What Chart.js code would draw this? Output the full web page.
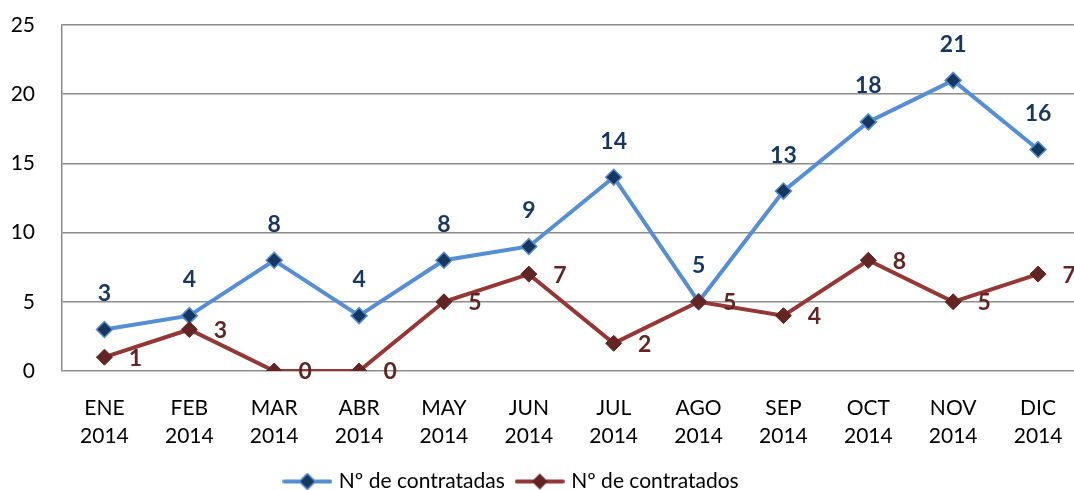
<!DOCTYPE html>
<html>
<head>
<meta charset="utf-8">
<script src="https://cdn.jsdelivr.net/npm/chart.js@4/dist/chart.umd.min.js"></script>
<style>
  html, body { margin: 0; padding: 0; overflow: hidden; background: #fff; }
  #wrap { width: 1090px; height: 490px; }
</style>
</head>
<body>
<div id="wrap"><canvas id="chart1"></canvas></div>
<script>
const months = [['ENE', '2014'], ['FEB', '2014'], ['MAR', '2014'], ['ABR', '2014'], ['MAY', '2014'], ['JUN', '2014'],
                ['JUL', '2014'], ['AGO', '2014'], ['SEP', '2014'], ['OCT', '2014'], ['NOV', '2014'], ['DIC', '2014']];
const contratadas = [3, 4, 8, 4, 8, 9, 14, 5, 13, 18, 21, 16];
const contratados = [1, 3, 0, 0, 5, 7, 2, 5, 4, 8, 5, 7];
const yTicks = [0, 5, 10, 15, 20, 25];

const FONT = 'Lato, "Open Sans", sans-serif';

// legend marker: line with diamond in the middle
function legendIcon(lineColor, fill, border) {
    const c = document.createElement('canvas');
    c.width = 50; c.height = 18;
    const g = c.getContext('2d');
    g.strokeStyle = lineColor;
    g.lineWidth = 4;
    g.lineCap = 'round';
    g.beginPath(); g.moveTo(2, 9); g.lineTo(48, 9); g.stroke();
    g.beginPath();
    g.moveTo(25, 1); g.lineTo(33, 9); g.lineTo(25, 17); g.lineTo(17, 9); g.closePath();
    g.fillStyle = fill; g.fill();
    if (border) { g.strokeStyle = border; g.lineWidth = 1.5; g.stroke(); }
    return c;
}

// value labels drawn from the points the chart computed
const valueLabels = {
    id: 'valueLabels',
    afterDatasetsDraw(chart) {
        const ctx = chart.ctx;
        ctx.save();
        ctx.font = 'bold 23px ' + FONT;
        ctx.textBaseline = 'middle';
        ctx.textAlign = 'center';
        chart.data.datasets.forEach((ds, i) => {
            const meta = chart.getDatasetMeta(i);
            meta.data.forEach((pt, j) => {
                ctx.fillStyle = ds.labelColor;
                if (ds.labelPos === 'top') {
                    ctx.fillText(ds.data[j], pt.x, pt.y - 36);
                } else {
                    ctx.fillText(ds.data[j], pt.x + 31, pt.y + 1);
                }
            });
        });
        ctx.restore();
    }
};

// shift legend so it sits like the original
const legendShift = {
    id: 'legendShift',
    afterLayout(chart) {
        const lg = chart.legend;
        if (!lg) return;
        lg.right -= 62;
        lg.top += 12;
        lg.bottom += 12;
    }
};

const ctx = document.getElementById('chart1').getContext('2d');
new Chart(ctx, {
    type: 'line',
    data: {
        labels: months,
        datasets: [{
            label: 'Nº de contratadas',
            data: contratadas,
            borderColor: '#558ED5',
            backgroundColor: '#17375E',
            pointBackgroundColor: '#17375E',
            pointBorderColor: '#558ED5',
            pointBorderWidth: 1.5,
            pointStyle: 'rectRot',
            pointRadius: 8,
            borderWidth: 4,
            fill: false,
            tension: 0,
            order: 1,
            labelColor: '#17375E',
            labelPos: 'top',
            icon: legendIcon('#558ED5', '#17375E', '#558ED5')
        }, {
            label: 'Nº de contratados',
            data: contratados,
            borderColor: '#953735',
            backgroundColor: '#632523',
            pointBackgroundColor: '#632523',
            pointBorderColor: '#632523',
            pointBorderWidth: 1,
            pointStyle: 'rectRot',
            pointRadius: 8,
            borderWidth: 4,
            fill: false,
            tension: 0,
            order: 0,
            labelColor: '#632523',
            labelPos: 'right',
            icon: legendIcon('#953735', '#632523', null)
        }]
    },
    options: {
        responsive: true,
        maintainAspectRatio: false,
        animation: false,
        layout: { padding: { top: 25, right: 3, left: 0, bottom: 0 } },
        scales: {
            x: {
                offset: true,
                grid: { display: false, drawTicks: false },
                border: { display: false },
                ticks: {
                    color: '#000',
                    font: { family: FONT, size: 21, lineHeight: 1.3 },
                    padding: 24,
                    maxRotation: 0,
                    autoSkip: false
                },
                afterFit(scale) {
                    scale.height = 74;
                    scale.paddingTop = 0;
                    scale.paddingBottom = 0;
                }
            },
            y: {
                min: 0,
                max: 25,
                afterBuildTicks(scale) { scale.ticks = yTicks.map(v => ({ value: v })); },
                grid: { color: '#8c8c8c', lineWidth: 1.5, drawTicks: false },
                border: { display: true, color: '#8c8c8c', width: 1.5 },
                ticks: {
                    color: '#000',
                    font: { family: FONT, size: 21 },
                    padding: 27
                },
                afterFit(scale) {
                    scale.width = 62;
                    scale.paddingTop = 0;
                    scale.paddingBottom = 0;
                }
            }
        },
        plugins: {
            legend: {
                position: 'bottom',
                labels: {
                    usePointStyle: true,
                    pointStyleWidth: 42,
                    color: '#000',
                    font: { family: FONT, size: 21 },
                    padding: 14,
                    generateLabels(chart) {
                        return chart.data.datasets.map((ds, i) => ({
                            text: ds.label,
                            pointStyle: ds.icon,
                            fillStyle: ds.backgroundColor,
                            strokeStyle: ds.borderColor,
                            lineWidth: 0,
                            fontColor: '#000',
                            datasetIndex: i,
                            hidden: false
                        }));
                    }
                }
            },
            tooltip: { enabled: false }
        }
    },
    plugins: [valueLabels, legendShift]
});
</script>
</body>
</html>
